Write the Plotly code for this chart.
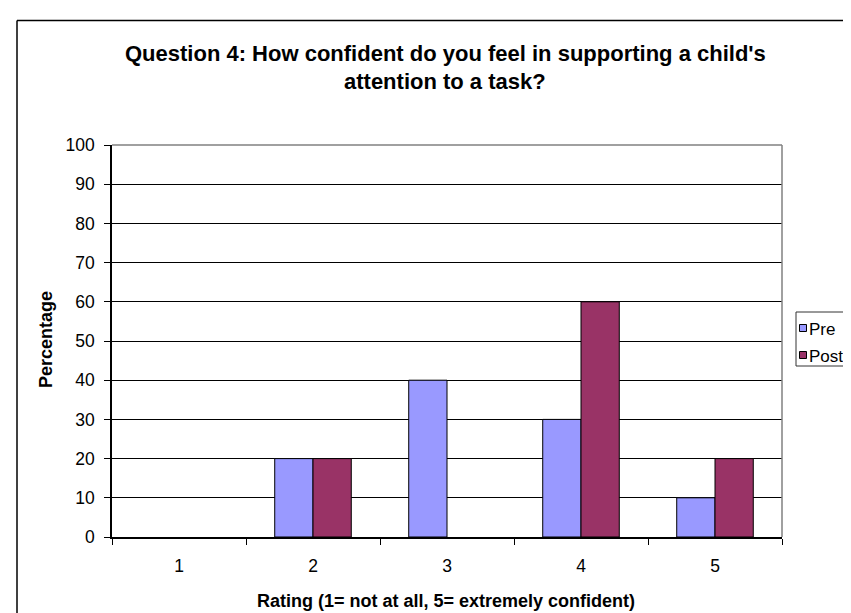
import plotly.graph_objects as go

categories = ["1", "2", "3", "4", "5"]
pre_values = [0, 20, 40, 30, 10]
post_values = [0, 20, 0, 60, 20]
series_names = ["Pre", "Post"]
series_colors = ["#9999FF", "#993366"]
y_ticks = [0, 10, 20, 30, 40, 50, 60, 70, 80, 90, 100]

title_line1 = "Question 4: How confident do you feel in supporting a child's"
title_line2 = "attention to a task?"
x_title = "Rating (1= not at all, 5= extremely confident)"
y_title = "Percentage"

W, H = 851, 613
L, R, T, B = 104, 774, 137, 529
FONT = "Liberation Sans, Arial, sans-serif"


def px(x):
    return (x - L) / (R - L)


def py(y):
    return (B - y) / (B - T)


fig = go.Figure()
for name, vals, col in zip(series_names, [pre_values, post_values], series_colors):
    # zero-height bars are not drawn (as in the original)
    shown = [v if v else None for v in vals]
    fig.add_trace(go.Bar(
        x=categories, y=shown, name=name,
        marker=dict(color=col, line=dict(color="#000000", width=1)),
        showlegend=False,
    ))

shapes = []
# plot area border (top/right gray)
shapes.append(dict(type="line", xref="paper", yref="paper", x0=0, x1=1, y0=1, y1=1,
                   line=dict(color="#808080", width=1.5)))
shapes.append(dict(type="line", xref="paper", yref="paper", x0=1, x1=1, y0=0, y1=1,
                   line=dict(color="#808080", width=1.5)))
# outer chart border
shapes.append(dict(type="line", xref="paper", yref="paper", x0=px(9), x1=px(9), y0=py(12.5), y1=py(700),
                   line=dict(color="#000000", width=1.5)))
shapes.append(dict(type="line", xref="paper", yref="paper", x0=px(9), x1=px(900), y0=py(12.5), y1=py(12.5),
                   line=dict(color="#000000", width=1.5)))
# legend box
shapes.append(dict(type="rect", xref="paper", yref="paper", x0=px(788), x1=px(870), y0=py(358), y1=py(304),
                   line=dict(color="#333333", width=1), fillcolor="#FFFFFF"))
annotations = []
legend_y = [320, 347]
for name, col, ly in zip(series_names, series_colors, legend_y):
    shapes.append(dict(type="rect", xref="paper", yref="paper", x0=px(791.5), x1=px(798.5),
                       y0=py(ly + 3.5), y1=py(ly - 3.5),
                       line=dict(color="#000000", width=1), fillcolor=col))
    annotations.append(dict(text=name, xref="paper", yref="paper", x=px(800), y=py(ly + 1),
                            xanchor="left", yanchor="middle", showarrow=False, borderpad=0,
                            font=dict(family=FONT, size=17, color="#000000")))

annotations.append(dict(text="<b>" + title_line1 + "</b>", xref="paper", yref="paper",
                        x=px(437), y=py(46), xanchor="center", yanchor="middle", showarrow=False,
                        font=dict(family=FONT, size=22, color="#000000")))
annotations.append(dict(text="<b>" + title_line2 + "</b>", xref="paper", yref="paper",
                        x=px(437), y=py(74), xanchor="center", yanchor="middle", showarrow=False,
                        font=dict(family=FONT, size=22, color="#000000")))
annotations.append(dict(text="<b>" + x_title + "</b>", xref="paper", yref="paper",
                        x=px(438), y=py(593), xanchor="center", yanchor="middle", showarrow=False,
                        font=dict(family=FONT, size=18, color="#000000")))
annotations.append(dict(text="<b>" + y_title + "</b>", xref="paper", yref="paper",
                        x=px(38), y=py(332), xanchor="center", yanchor="middle", showarrow=False,
                        textangle=-90, font=dict(family=FONT, size=18, color="#000000")))

fig.update_layout(
    width=W, height=H,
    margin=dict(l=L, r=W - R, t=T, b=H - B, pad=0),
    paper_bgcolor="#FFFFFF", plot_bgcolor="#FFFFFF",
    barmode="group", bargap=0.4286, bargroupgap=0,
    font=dict(family=FONT, size=17.5, color="#000000"),
    shapes=shapes, annotations=annotations,
    showlegend=False,
    xaxis=dict(
        type="category", tickson="boundaries", ticks="outside", ticklen=6, tickcolor="#000000",
        showline=True, linecolor="#000000", linewidth=1.5, showgrid=False,
        ticklabelstandoff=12, tickfont=dict(size=17.5), fixedrange=True,
    ),
    yaxis=dict(
        range=[0, 100], tickvals=y_ticks, ticks="outside", ticklen=6, tickcolor="#000000",
        showline=True, linecolor="#000000", linewidth=1.5,
        showgrid=True, gridcolor="#000000", gridwidth=1, zeroline=False,
        ticklabelstandoff=6, tickfont=dict(size=17.5), fixedrange=True,
    ),
)

fig.write_html("out.html")
